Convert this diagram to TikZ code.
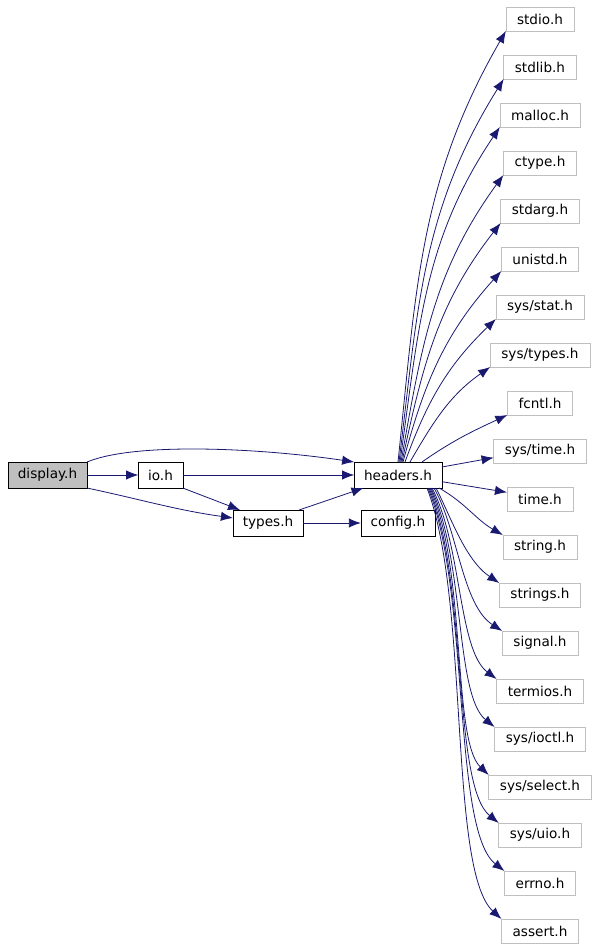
\documentclass[tikz,border=0pt]{standalone}
\usepackage{fontspec}
\setmainfont{DejaVu Sans}
\usetikzlibrary{arrows.meta,positioning}
\definecolor{edgeblue}{HTML}{191970}
\definecolor{boxgray}{HTML}{BFBFBF}

\begin{document}
\begin{tikzpicture}[x=0.75pt,y=-0.75pt,font=\fontsize{10.2}{12}\selectfont,
  >={Latex[length=9pt,width=7pt]},
  file/.style={draw,inner xsep=7.4pt,inner ysep=0pt,minimum height=19.5pt,outer sep=0pt},
  sysfile/.style={draw=boxgray,inner xsep=8.4pt,inner ysep=0pt,minimum height=18pt,outer sep=0pt},
  dep/.style={->,draw=edgeblue,line width=0.6pt}]
\useasboundingbox (0,0) rectangle (597,947);
\node[file,fill=boxgray] (display) at (47.5,475) {display.h};
\node[file] (io) at (160.5,475) {io.h};
\node[file] (headers) at (398,475) {headers.h};
\node[file] (types) at (268,523) {types.h};
\node[file] (config) at (398,523) {config.h};
% system headers in one column
\node[sysfile] (stdio) at (540,19) {stdio.h};
\node[sysfile,below=18pt of stdio] (stdlib) {stdlib.h};
\node[sysfile,below=18pt of stdlib] (malloc) {malloc.h};
\node[sysfile,below=18pt of malloc] (ctype) {ctype.h};
\node[sysfile,below=18pt of ctype] (stdarg) {stdarg.h};
\node[sysfile,below=18pt of stdarg] (unistd) {unistd.h};
\node[sysfile,below=18pt of unistd] (sysstat) {sys/stat.h};
\node[sysfile,below=18pt of sysstat] (systypes) {sys/types.h};
\node[sysfile,below=18pt of systypes] (fcntl) {fcntl.h};
\node[sysfile,below=18pt of fcntl] (systime) {sys/time.h};
\node[sysfile,below=18pt of systime] (time) {time.h};
\node[sysfile,below=18pt of time] (string) {string.h};
\node[sysfile,below=18pt of string] (strings) {strings.h};
\node[sysfile,below=18pt of strings] (signal) {signal.h};
\node[sysfile,below=18pt of signal] (termios) {termios.h};
\node[sysfile,below=18pt of termios] (sysioctl) {sys/ioctl.h};
\node[sysfile,below=18pt of sysioctl] (sysselect) {sys/select.h};
\node[sysfile,below=18pt of sysselect] (sysuio) {sys/uio.h};
\node[sysfile,below=18pt of sysuio] (errno) {errno.h};
\node[sysfile,below=18pt of errno] (assert) {assert.h};
% local includes
\draw[dep] (display) -- (io);
\draw[dep] (io) -- (headers);
\draw[dep] (display.north east) .. controls (135,442) and (260,448) .. (headers.north west);
\draw[dep] (display.south east) to[out=-12,in=172] ([yshift=3.75pt]types.west);
\draw[dep] (io.south east) -- ([xshift=-21pt]types.north);
\draw[dep] ([xshift=-3pt]types.north east) -- ([xshift=7pt]headers.south west);
\draw[dep] (types) -- (config);
% headers.h fan, upwards
\foreach \t/\dx/\o/\i in {stdio/0/84/240,stdlib/0.75/83/238,malloc/1.5/82/236,
    ctype/2.25/80/234,stdarg/3/78/232,unistd/3.75/75/228,sysstat/5.25/70/224,
    systypes/9/60/215,fcntl/18/35/205}
  \draw[dep] ([xshift=\dx pt]headers.north) to[out=\o,in=\i] (\t.south west);
\draw[dep] ([yshift=6pt]headers.east) -- ([yshift=-5pt]systime.west);
\draw[dep] ([yshift=-5pt]headers.east) -- ([yshift=5pt]time.west);
\draw[dep] ([xshift=-2pt]headers.south east) to[out=-30,in=150] (string.north west);
% headers.h fan, downwards
\foreach \t/\dx/\ax/\ay/\bx/\by in {strings/28.5/450/515/465/560,signal/27/458/530/462/605,
    termios/25.5/462/545/458/650,sysioctl/24.75/465/560/455/695,
    sysselect/24/467/570/452/740,sysuio/23.25/468/580/452/785,
    errno/22.5/470/590/452/830,assert/21.75/470/600/448/870}
  \draw[dep] ([xshift=\dx pt]headers.south) .. controls (\ax,\ay) and (\bx,\by) .. (\t.north west);
\end{tikzpicture}
\end{document}
